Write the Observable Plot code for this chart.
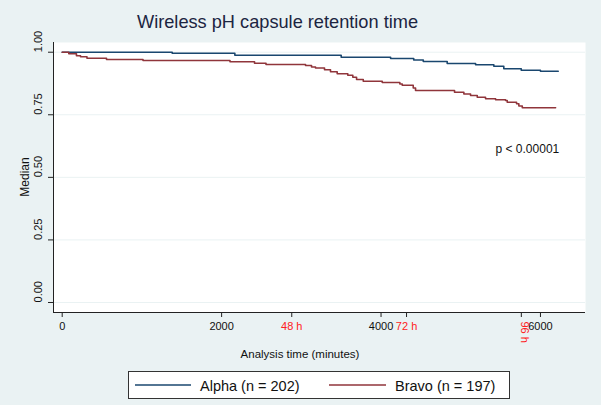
<!DOCTYPE html>
<html><head><meta charset="utf-8">
<script src="https://cdn.jsdelivr.net/npm/d3@7"></script>
<script src="https://cdn.jsdelivr.net/npm/@observablehq/plot@0.6"></script>
<style>
html,body{margin:0;padding:0;background:#eaf2f3;}
#chart{width:601px;height:405px;}
</style>
</head><body><div id="chart"></div>
<script>
// ---- data ----
const groups = ["Alpha (n = 202)", "Bravo (n = 197)"];
const alphaTime = [0, 1380, 2166, 3500, 4120, 4410, 4530, 4830, 5186, 5415, 5540, 5759, 6000, 6223];
const alphaSurv = [1.000, 0.996, 0.988, 0.980, 0.975, 0.969, 0.963, 0.955, 0.950, 0.944, 0.934, 0.928, 0.924, 0.924];
const bravoTime = [0, 83, 179, 230, 311, 556, 1014, 2105, 2413, 2557, 3053, 3128, 3178, 3291, 3366, 3450, 3583, 3646, 3693, 3777, 4015, 4236, 4266, 4404, 4433, 4922, 5039, 5123, 5207, 5311, 5437, 5562, 5583, 5700, 5729, 5772, 6190];
const bravoSurv = [1.000, 0.994, 0.986, 0.982, 0.976, 0.971, 0.967, 0.962, 0.956, 0.951, 0.947, 0.941, 0.937, 0.930, 0.922, 0.914, 0.908, 0.900, 0.891, 0.884, 0.879, 0.873, 0.868, 0.857, 0.847, 0.840, 0.833, 0.827, 0.820, 0.814, 0.810, 0.807, 0.800, 0.794, 0.785, 0.778, 0.778];
const xTicks = [0, 2000, 4000, 6000];
const hourTicks = [2880, 4320, 5760];
const hourLabels = ["48 h", "72 h", "96 h"];
const yTicks = [0, 0.25, 0.5, 0.75, 1];
const pLabel = "p < 0.00001";
const pPos = {x: 5436, y: 0.611};

// ---- styling ----
const colors = ["#1a476f", "#90353b"];
const bg = "#eaf2f3";
const font = "'Liberation Sans', Arial, sans-serif";
const xDomain = [-109, 6565];
const yDomain = [-0.04, 1.0388];

const rows = [
  ...alphaTime.map((t, i) => ({group: groups[0], t, s: alphaSurv[i]})),
  ...bravoTime.map((t, i) => ({group: groups[1], t, s: bravoSurv[i]}))
];

const svg = Plot.plot({
  width: 601, height: 405,
  marginTop: 42, marginRight: 16, marginBottom: 93, marginLeft: 53,
  style: {background: bg, fontFamily: font, color: "#000", overflow: "visible"},
  x: {domain: xDomain, label: null},
  y: {domain: yDomain, label: null},
  color: {domain: groups, range: colors},
  marks: [
    Plot.frame({fill: "white", stroke: "none"}),
    Plot.gridY(yTicks, {stroke: bg, strokeOpacity: 1, strokeWidth: 1}),
    Plot.ruleX([xDomain[0]], {stroke: "#222", strokeWidth: 1}),
    Plot.ruleY([yDomain[0]], {stroke: "#222", strokeWidth: 1}),
    Plot.axisX({ticks: [...xTicks, ...hourTicks], tickSize: 5, tickFormat: () => "", label: null, stroke: "#222"}),
    Plot.axisY({ticks: yTicks, tickSize: 5, tickFormat: () => "", label: null, stroke: "#222"}),
    Plot.text(xTicks, {x: d => d, text: d => String(d), frameAnchor: "bottom", dy: 17, fontSize: 11, fill: "#111"}),
    Plot.text(hourTicks.slice(0, 2), {x: d => d, text: (d, i) => hourLabels[i], frameAnchor: "bottom", dy: 17, fontSize: 11, fill: "#ff2020"}),
    Plot.text(hourTicks.slice(2), {x: d => d, text: () => hourLabels[2], frameAnchor: "bottom", dy: 9, rotate: 90, textAnchor: "start", fontSize: 11, fill: "#ff2020"}),
    Plot.text(yTicks, {y: d => d, text: d => d.toFixed(2), frameAnchor: "left", dx: -15, rotate: -90, fontSize: 11, fill: "#111"}),
    Plot.line(rows, {x: "t", y: "s", stroke: "group", z: "group", curve: "step-after", strokeWidth: 1.6}),
    Plot.text([pPos], {x: "x", y: "y", text: () => pLabel, textAnchor: "start", fontSize: 12, fill: "#111"})
  ]
});

const s = d3.select(svg);
s.append("text").attr("x", 277.5).attr("y", 28).attr("text-anchor", "middle")
  .attr("font-size", 18.2).attr("fill", "#1c2541").attr("font-family", font)
  .text("Wireless pH capsule retention time");
s.append("text").attr("transform", "translate(25,177) rotate(-90)").attr("text-anchor", "middle")
  .attr("dy", "0.35em").attr("font-size", 12).attr("fill", "#111").attr("font-family", font)
  .text("Median");
s.append("text").attr("x", 300).attr("y", 358).attr("text-anchor", "middle")
  .attr("font-size", 11.5).attr("fill", "#111").attr("font-family", font)
  .text("Analysis time (minutes)");
// legend
const lg = s.append("g");
lg.append("rect").attr("x", 128.5).attr("y", 371.5).attr("width", 381).attr("height", 27)
  .attr("fill", "white").attr("stroke", "#333").attr("stroke-width", 1);
const legendItems = [{x1: 135, x2: 191, tx: 200}, {x1: 329, x2: 386, tx: 395}];
groups.forEach((g, i) => {
  const it = legendItems[i];
  lg.append("line").attr("x1", it.x1).attr("x2", it.x2).attr("y1", 385).attr("y2", 385)
    .attr("stroke", colors[i]).attr("stroke-width", 1.5);
  lg.append("text").attr("x", it.tx).attr("y", 390.5).attr("font-size", 14.5)
    .attr("text-anchor", "start")
    .attr("fill", "#111").attr("font-family", font).text(g);
});

document.getElementById("chart").appendChild(svg);
</script>
</body></html>
